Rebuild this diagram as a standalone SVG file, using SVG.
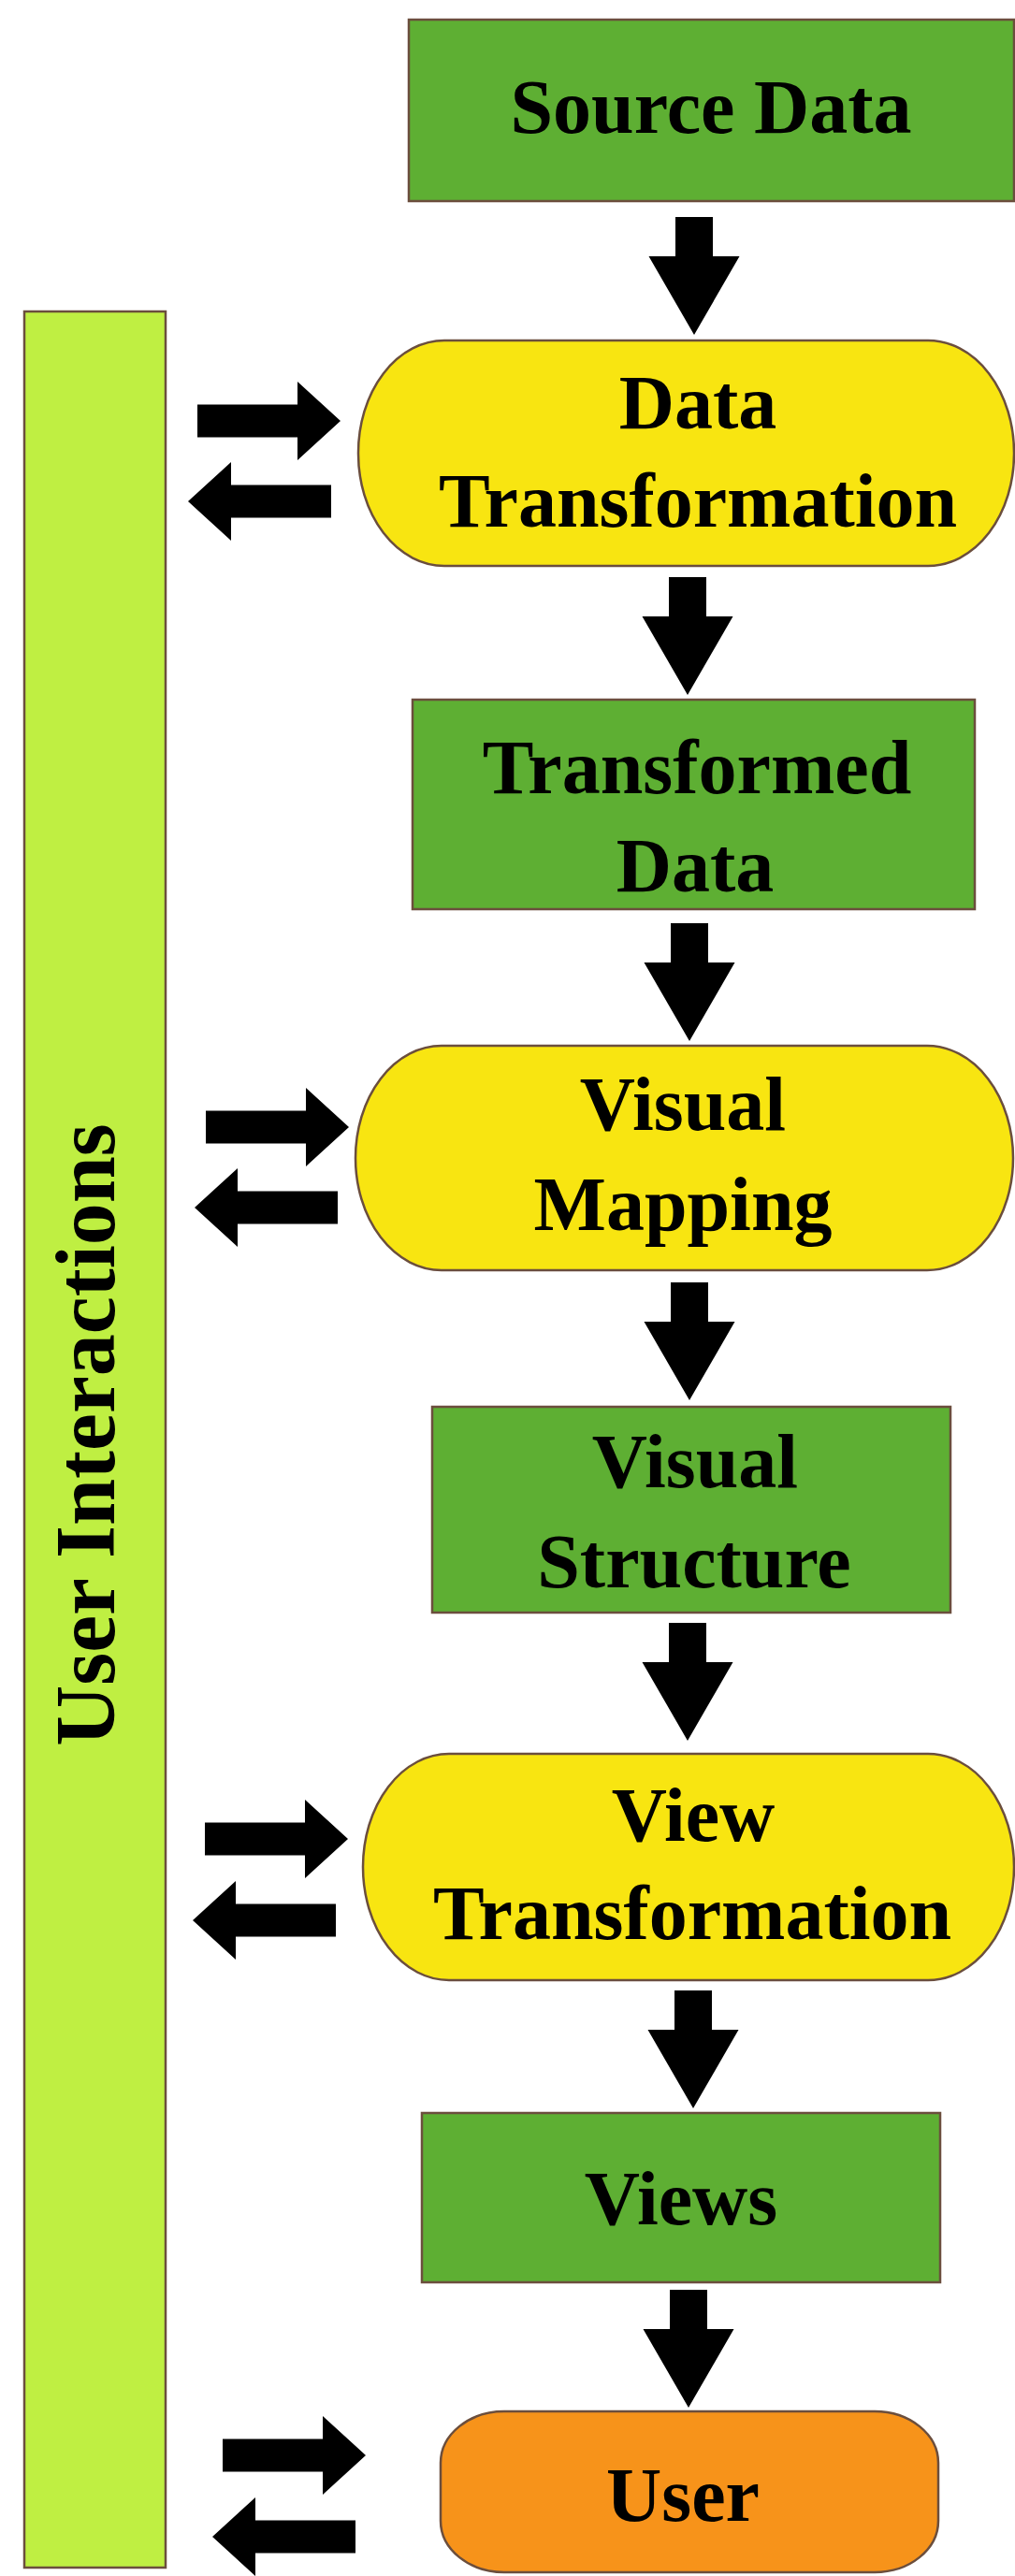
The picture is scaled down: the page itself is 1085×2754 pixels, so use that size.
<svg xmlns="http://www.w3.org/2000/svg" xmlns:xlink="http://www.w3.org/1999/xlink" width="1085" height="2754" viewBox="0 0 1085 2754">
  <style>
    .box { fill: #5EAF33; stroke: #6B4E3D; stroke-width: 2.5; }
    .pill { fill: #F8E511; stroke: #6B4E3D; stroke-width: 2.5; }
    .user { fill: #F7931A; stroke: #6B4E3D; stroke-width: 2.5; }
    .bar { fill: #BFEF42; stroke: #6B4E3D; stroke-width: 2.5; }
    .lbl { font-family: "Liberation Serif", "Times New Roman", serif; font-weight: bold; font-size: 82px; fill: #000; text-anchor: middle; }
    .vlbl { font-family: "Liberation Serif", "Times New Roman", serif; font-weight: bold; font-size: 90px; fill: #000; text-anchor: middle; }
    .arr { fill: #000; }
  </style>
  <defs>
    <path id="arrowDown" d="M-20,0 H20 V42 H48.5 L0,126 L-48.5,42 H-20 Z"/>
    <path id="arrowRight" d="M0,-17.5 H107 V-42 L153,0 L107,42 V17.5 H0 Z"/>
    <path id="arrowLeft" d="M0,0 L46,-42 V-17.5 H153 V17.5 H46 V42 Z"/>
  </defs>
  <rect width="1085" height="2754" fill="#FFFFFF"/>

  <g id="user-interactions">
    <rect class="bar" x="26" y="333" width="151" height="2412"/>
    <text class="vlbl" transform="translate(122,1534) rotate(-90)" x="0" y="0">User Interactions</text>
  </g>

  <g id="source-data">
    <rect class="box" x="437" y="21" width="647" height="194"/>
    <text class="lbl" x="760" y="142">Source Data</text>
  </g>

  <g id="data-transformation">
    <rect class="pill" x="383" y="364" width="701" height="241" rx="92" ry="120"/>
    <text class="lbl" x="746" y="458">Data</text>
    <text class="lbl" x="746" y="563">Transformation</text>
  </g>

  <g id="transformed-data">
    <rect class="box" x="441" y="748" width="601" height="224"/>
    <text class="lbl" x="745" y="848">Transformed</text>
    <text class="lbl" x="743" y="953">Data</text>
  </g>

  <g id="visual-mapping">
    <rect class="pill" x="380" y="1118" width="703" height="240" rx="92" ry="120"/>
    <text class="lbl" x="730" y="1208">Visual</text>
    <text class="lbl" x="730" y="1315">Mapping</text>
  </g>

  <g id="visual-structure">
    <rect class="box" x="462" y="1504" width="554" height="220"/>
    <text class="lbl" x="743" y="1590">Visual</text>
    <text class="lbl" x="742" y="1697">Structure</text>
  </g>

  <g id="view-transformation">
    <rect class="pill" x="388" y="1875" width="696" height="242" rx="92" ry="121"/>
    <text class="lbl" x="741" y="1968">View</text>
    <text class="lbl" x="740" y="2073">Transformation</text>
  </g>

  <g id="views">
    <rect class="box" x="451" y="2259" width="554" height="181"/>
    <text class="lbl" x="728" y="2378">Views</text>
  </g>

  <g id="user">
    <rect class="user" x="471" y="2578" width="532" height="172" rx="68" ry="55"/>
    <text class="lbl" x="730" y="2695">User</text>
  </g>

  <g id="connectors" class="arr">
    <use xlink:href="#arrowDown" href="#arrowDown" x="742" y="232"/>
    <use xlink:href="#arrowDown" href="#arrowDown" x="735" y="617"/>
    <use xlink:href="#arrowDown" href="#arrowDown" x="737" y="987"/>
    <use xlink:href="#arrowDown" href="#arrowDown" x="737" y="1371"/>
    <use xlink:href="#arrowDown" href="#arrowDown" x="735" y="1735"/>
    <use xlink:href="#arrowDown" href="#arrowDown" x="741" y="2128"/>
    <use xlink:href="#arrowDown" href="#arrowDown" x="736" y="2448"/>

    <use xlink:href="#arrowRight" href="#arrowRight" x="211" y="450"/>
    <use xlink:href="#arrowLeft" href="#arrowLeft" x="201" y="536"/>
    <use xlink:href="#arrowRight" href="#arrowRight" x="220" y="1205"/>
    <use xlink:href="#arrowLeft" href="#arrowLeft" x="208" y="1291"/>
    <use xlink:href="#arrowRight" href="#arrowRight" x="219" y="1966"/>
    <use xlink:href="#arrowLeft" href="#arrowLeft" x="206" y="2053"/>
    <use xlink:href="#arrowRight" href="#arrowRight" x="238" y="2625"/>
    <use xlink:href="#arrowLeft" href="#arrowLeft" x="227" y="2712"/>
  </g>
</svg>
